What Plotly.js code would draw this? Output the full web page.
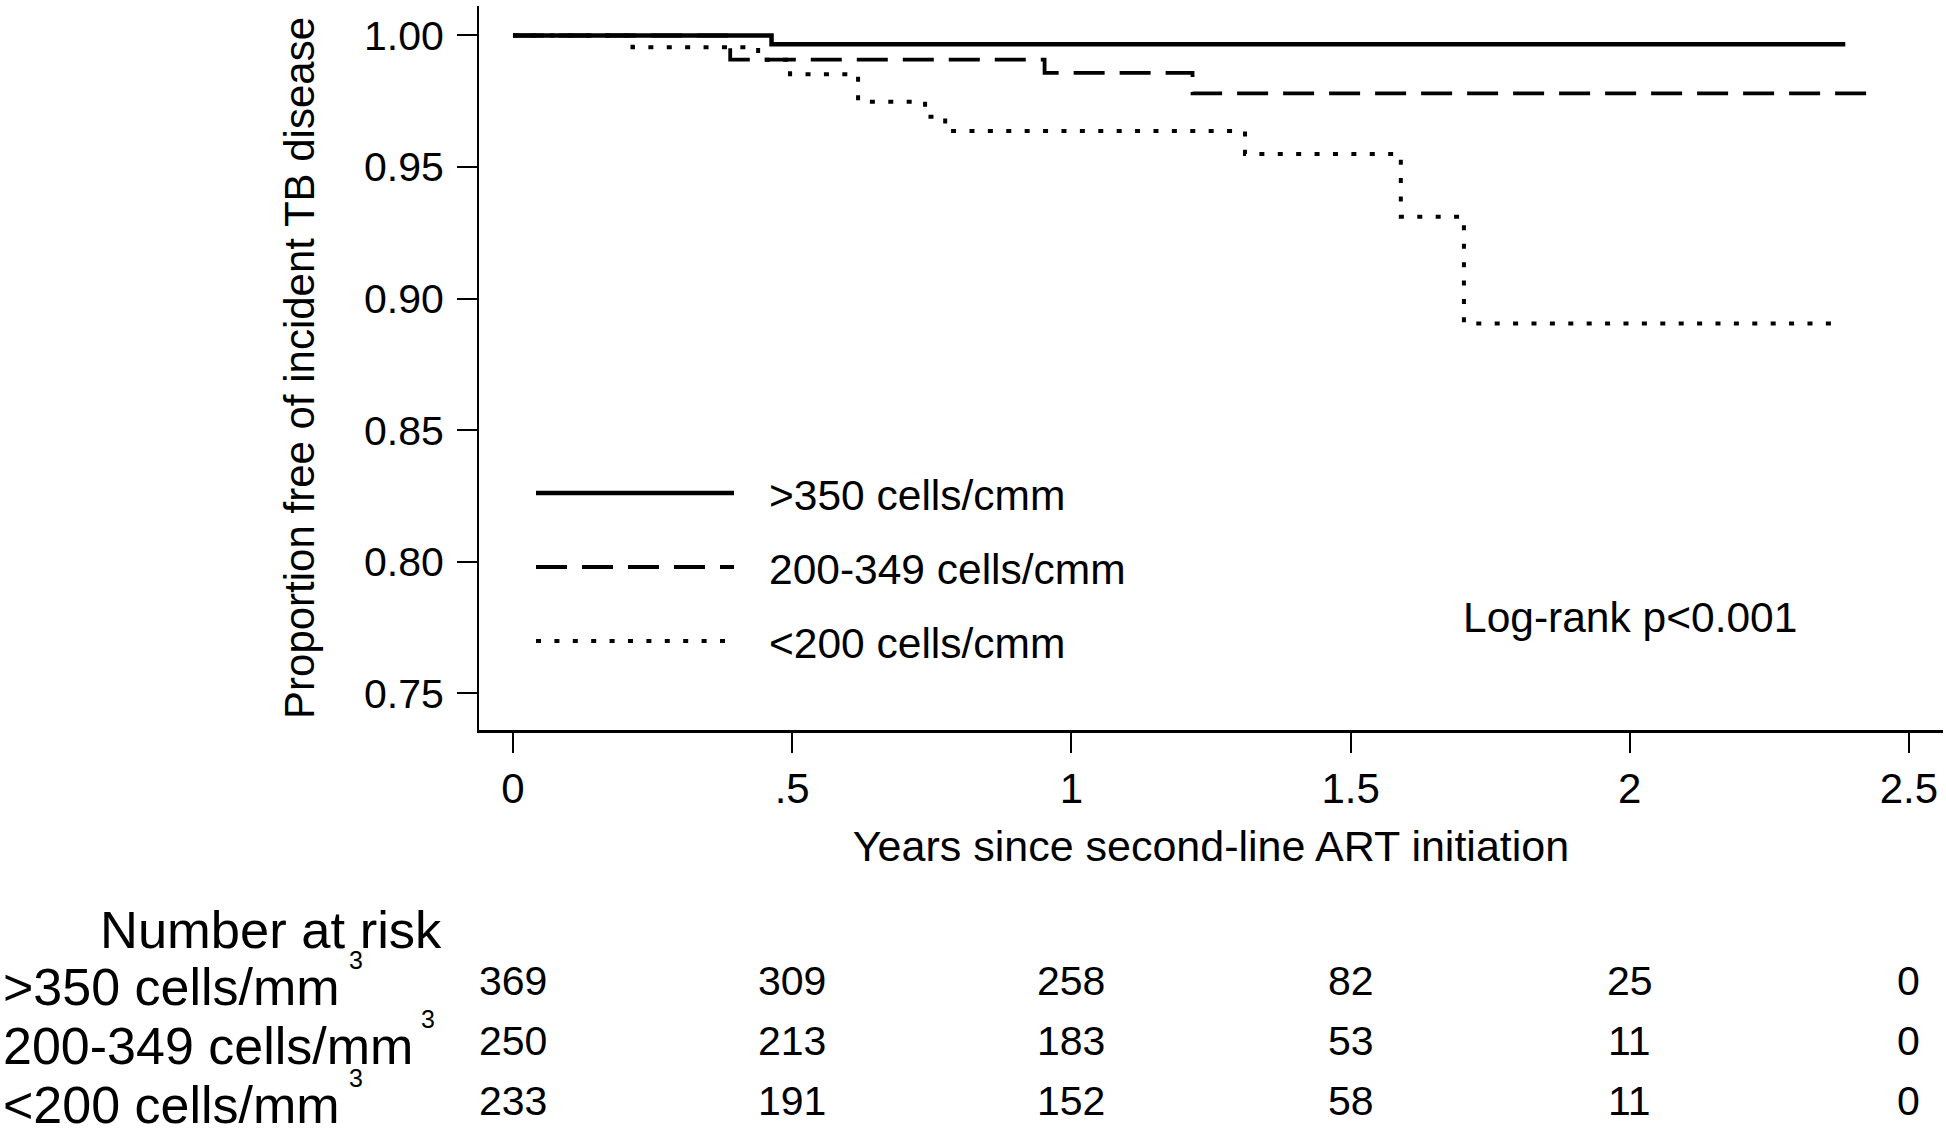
<!DOCTYPE html>
<html><head><meta charset="utf-8">
<script src="https://cdn.plot.ly/plotly-3.0.1.min.js"></script>
<style>html,body{margin:0;padding:0;background:#fff;}#chart{width:1946px;height:1128px;}</style>
</head><body><div id="chart"></div>
<script>
// ---- data ----
const groupNames = [">350 cells/cmm", "200-349 cells/cmm", "<200 cells/cmm"];
const timeHigh = [0, 0.463, 2.386];
const survHigh = [1.000, 0.9967, 0.9967];
const timeMid = [0, 0.389, 0.952, 1.217, 2.448];
const survMid = [1.000, 0.9908, 0.9858, 0.978, 0.978];
const timeLow = [0, 0.214, 0.439, 0.496, 0.618, 0.738, 0.774, 1.311, 1.590, 1.703, 2.380];
const survLow = [1.000, 0.9955, 0.9908, 0.9853, 0.9748, 0.9691, 0.9637, 0.955, 0.9311, 0.8906, 0.8906];

const riskTitle = "Number at risk";
const riskLabels = [">350 cells/mm", "200-349 cells/mm", "<200 cells/mm"];
const riskTimes = [0, 0.5, 1, 1.5, 2, 2.5];
const riskHigh = [369, 309, 258, 82, 25, 0];
const riskMid = [250, 213, 183, 53, 11, 0];
const riskLow = [233, 191, 152, 58, 11, 0];

const xTickVals = [0, 0.5, 1, 1.5, 2, 2.5];
const xTickText = ["0", ".5", "1", "1.5", "2", "2.5"];
const yTickVals = [0.75, 0.80, 0.85, 0.90, 0.95, 1.00];
const pText = "Log-rank p<0.001";
const xTitle = "Years since second-line ART initiation";
const yTitle = "Proportion free of incident TB disease";

// ---- geometry ----
const W = 1946, H = 1128;
const M = {l: 479, r: 3, t: 6, b: 398};
const PW = W - M.l - M.r, PH = H - M.t - M.b;
const px = x => (x - M.l) / PW;
const py = y => (H - M.b - y) / PH;
const FONT = "Liberation Sans, Arial, Helvetica, sans-serif";
const BLACK = "#000000";

const styles = [
  {dash: "solid", width: 4.5},
  {dash: "31px,15px", width: 3.8},
  {dash: "5px,13.4px", width: 4}
];
const times = [timeHigh, timeMid, timeLow];
const survs = [survHigh, survMid, survLow];

const traces = [2, 1, 0].map(i => ({
  type: "scatter", mode: "lines",
  x: times[i], y: survs[i], name: groupNames[i],
  line: {shape: "hv", color: BLACK, width: styles[i].width, dash: styles[i].dash},
  hoverinfo: "skip"
}));

const shapes = [];
const annotations = [];
const legY = [493, 567, 641];
groupNames.forEach((g, i) => {
  shapes.push({type: "line", xref: "paper", yref: "paper",
    x0: px(536), x1: px(734), y0: py(legY[i]), y1: py(legY[i]),
    line: {color: BLACK, width: styles[i].width, dash: styles[i].dash}});
  annotations.push({xref: "paper", yref: "paper", x: px(767), y: py(legY[i] + 2),
    xanchor: "left", yanchor: "middle", showarrow: false, text: g,
    font: {family: FONT, size: 42.5, color: BLACK}});
});
annotations.push({xref: "paper", yref: "paper", x: px(1461), y: py(617),
  xanchor: "left", yanchor: "middle", showarrow: false, text: pText,
  font: {family: FONT, size: 42.5, color: BLACK}});

// risk table
annotations.push({xref: "paper", yref: "paper", x: px(271), y: py(929),
  xanchor: "center", yanchor: "middle", showarrow: false, text: riskTitle,
  font: {family: FONT, size: 52.5, color: BLACK}});
const rowLabelY = [987, 1046, 1105];
const rowNumY = [981, 1041, 1101];
const supX = [347, 419, 347];
const riskRows = [riskHigh, riskMid, riskLow];
riskLabels.forEach((lab, i) => {
  annotations.push({xref: "paper", yref: "paper", x: px(1), y: py(rowLabelY[i]),
    xanchor: "left", yanchor: "middle", showarrow: false, text: lab,
    font: {family: FONT, size: 52, color: BLACK}});
  annotations.push({xref: "paper", yref: "paper", x: px(supX[i]), y: py(rowLabelY[i] - 27),
    xanchor: "left", yanchor: "middle", showarrow: false, text: "3",
    font: {family: FONT, size: 25, color: BLACK}});
  riskRows[i].forEach((n, j) => {
    annotations.push({xref: "x", yref: "paper", x: riskTimes[j], y: py(rowNumY[i]),
      xanchor: "center", yanchor: "middle", showarrow: false, text: String(n),
      font: {family: FONT, size: 41, color: BLACK}});
  });
});

const layout = {
  width: W, height: H,
  margin: M,
  paper_bgcolor: "#ffffff", plot_bgcolor: "#ffffff",
  showlegend: false,
  font: {family: FONT, color: BLACK},
  xaxis: {
    range: [-0.0609, 2.561], tickvals: xTickVals, ticktext: xTickText,
    showgrid: false, zeroline: false, showline: true, linecolor: BLACK, linewidth: 2.5,
    ticks: "outside", ticklen: 20, tickwidth: 2, tickcolor: BLACK,
    tickfont: {family: FONT, size: 42, color: BLACK},
    title: {text: xTitle, font: {family: FONT, size: 43, color: BLACK}, standoff: 20},
    automargin: false
  },
  yaxis: {
    range: [0.7361, 1.0112], tickvals: yTickVals, tickformat: ".2f",
    showgrid: false, zeroline: false, showline: true, linecolor: BLACK, linewidth: 2,
    ticks: "outside", ticklen: 20, tickwidth: 2, tickcolor: BLACK,
    ticklabelstandoff: 5,
    tickfont: {family: FONT, size: 41, color: BLACK},
    title: {text: yTitle, font: {family: FONT, size: 42, color: BLACK}, standoff: 36},
    automargin: false
  },
  shapes: shapes,
  annotations: annotations
};

Plotly.newPlot("chart", traces, layout, {displayModeBar: false, staticPlot: true});
</script>
</body></html>
